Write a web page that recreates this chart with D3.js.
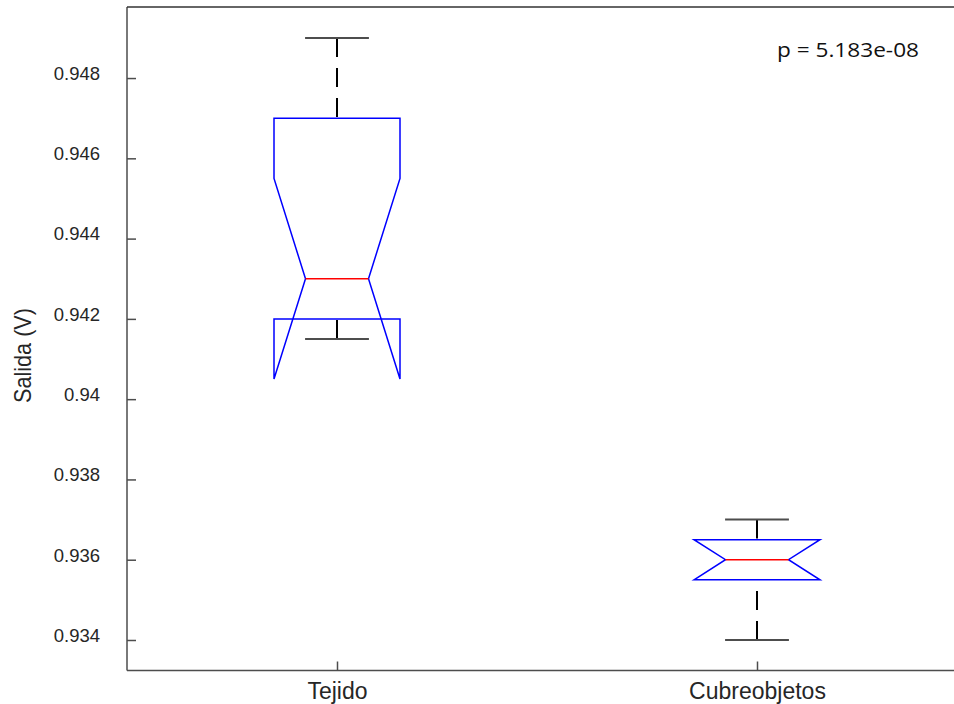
<!DOCTYPE html>
<html>
<head>
<meta charset="utf-8">
<script src="https://cdn.jsdelivr.net/npm/d3@7"></script>
<style>
  html, body { margin: 0; padding: 0; background: #fff; }
  svg { display: block; }
</style>
</head>
<body>
<svg id="chart" width="954" height="704"></svg>
<script>
// ---- data ----
const categories = ["Tejido", "Cubreobjetos"];
const q1Values = [0.942, 0.9355];
const medianValues = [0.943, 0.936];
const q3Values = [0.947, 0.9365];
const whiskerLow = [0.9415, 0.934];
const whiskerHigh = [0.949, 0.937];
const notchLow = [0.9405, 0.9355];
const notchHigh = [0.9455, 0.9365];
const yTicks = [0.934, 0.936, 0.938, 0.94, 0.942, 0.944, 0.946, 0.948];
const yTickLabels = ["0.934", "0.936", "0.938", "0.94", "0.942", "0.944", "0.946", "0.948"];
const yLabel = "Salida (V)";
const pText = "p = 5.183e-08";

(function () {
// ---- layout ----
const svg = d3.select("#chart");
const plotLeft = 127, plotTop = 7, plotBottom = 670.5, plotRightEdge = 967;

const x = d3.scaleLinear().domain([0.5, 2.5]).range([plotLeft, plotRightEdge]);
const y = d3.scaleLinear().domain([0.93324, 0.94977]).range([plotBottom, plotTop]);

const axisColor = "#4d4d4d";
const textColor = "#262626";
const boxHalf = 0.15, notchHalf = 0.075, capHalf = 0.076;

// y axis (ticks inside)
const yAxis = d3.axisLeft(y)
  .tickValues(yTicks)
  .tickFormat((d, i) => yTickLabels[i])
  .tickSizeInner(-9)
  .tickSizeOuter(0)
  .tickPadding(27);
const gy = svg.append("g").attr("transform", `translate(${plotLeft},0)`).call(yAxis);
gy.select(".domain").remove();
gy.selectAll(".tick line").attr("stroke", axisColor).attr("stroke-width", 1.5);
gy.selectAll(".tick text")
  .attr("fill", textColor)
  .attr("dy", "0.07em")
  .style("font-family", "'Liberation Sans', Arial, sans-serif")
  .style("font-size", "18.5px");

// x axis (ticks inside)
const xAxis = d3.axisBottom(x)
  .tickValues([1, 2])
  .tickFormat((d, i) => categories[i])
  .tickSizeInner(-9)
  .tickSizeOuter(0)
  .tickPadding(0);
const gx = svg.append("g").attr("transform", `translate(0,${plotBottom})`).call(xAxis);
gx.select(".domain").remove();
gx.selectAll(".tick line").attr("stroke", axisColor).attr("stroke-width", 1.5);
gx.selectAll(".tick text")
  .attr("fill", textColor)
  .attr("y", 28.5)
  .attr("dy", 0)
  .style("font-family", "'Liberation Sans', Arial, sans-serif")
  .style("font-size", "23px");

// frame lines (left, top, bottom; no right border)
svg.append("line").attr("x1", plotLeft).attr("x2", plotLeft).attr("y1", plotTop).attr("y2", plotBottom)
  .attr("stroke", axisColor).attr("stroke-width", 1.5);
svg.append("line").attr("x1", plotLeft).attr("x2", 954).attr("y1", plotTop).attr("y2", plotTop)
  .attr("stroke", "#333").attr("stroke-width", 1.5);
svg.append("line").attr("x1", plotLeft).attr("x2", 954).attr("y1", plotBottom).attr("y2", plotBottom)
  .attr("stroke", axisColor).attr("stroke-width", 1.5);

// y label
svg.append("text")
  .attr("transform", `translate(31,355.5) rotate(-90)`)
  .attr("text-anchor", "middle")
  .attr("fill", textColor)
  .attr("textLength", 95)
  .attr("lengthAdjust", "spacingAndGlyphs")
  .style("font-family", "'Liberation Sans', Arial, sans-serif")
  .style("font-size", "24px")
  .text(yLabel);

// boxes
const data = categories.map((c, i) => ({
  c, pos: i + 1,
  q1: q1Values[i], med: medianValues[i], q3: q3Values[i],
  lo: whiskerLow[i], hi: whiskerHigh[i],
  nlo: notchLow[i], nhi: notchHigh[i]
}));

const g = svg.append("g");

data.forEach(d => {
  // whiskers (dashed, drawn from cap toward box)
  g.append("line")
    .attr("x1", x(d.pos)).attr("x2", x(d.pos))
    .attr("y1", y(d.hi)).attr("y2", y(d.q3))
    .attr("stroke", "#000").attr("stroke-width", 2)
    .attr("stroke-dasharray", "19,11");
  g.append("line")
    .attr("x1", x(d.pos)).attr("x2", x(d.pos))
    .attr("y1", y(d.lo)).attr("y2", y(d.q1))
    .attr("stroke", "#000").attr("stroke-width", 2)
    .attr("stroke-dasharray", "19,11");
  // caps
  [d.hi, d.lo].forEach(v => {
    g.append("line")
      .attr("x1", x(d.pos - capHalf)).attr("x2", x(d.pos + capHalf))
      .attr("y1", y(v)).attr("y2", y(v))
      .attr("stroke", "#4d4d4d").attr("stroke-width", 2);
  });
  // notched box
  const pts = [
    [x(d.pos - boxHalf), y(d.q1)],
    [x(d.pos - boxHalf), y(d.nlo)],
    [x(d.pos - notchHalf), y(d.med)],
    [x(d.pos - boxHalf), y(d.nhi)],
    [x(d.pos - boxHalf), y(d.q3)],
    [x(d.pos + boxHalf), y(d.q3)],
    [x(d.pos + boxHalf), y(d.nhi)],
    [x(d.pos + notchHalf), y(d.med)],
    [x(d.pos + boxHalf), y(d.nlo)],
    [x(d.pos + boxHalf), y(d.q1)]
  ];
  g.append("path")
    .attr("d", d3.line()(pts) + "Z")
    .attr("fill", "none")
    .attr("stroke", "#0000ff").attr("stroke-width", 1.5)
    .attr("stroke-linejoin", "miter");
  // median
  g.append("line")
    .attr("x1", x(d.pos - notchHalf)).attr("x2", x(d.pos + notchHalf))
    .attr("y1", y(d.med)).attr("y2", y(d.med))
    .attr("stroke", "#ff0000").attr("stroke-width", 1.5);
});

// p-value annotation
svg.append("text")
  .attr("x", 777).attr("y", 57)
  .attr("fill", "#111")
  .attr("textLength", 142)
  .attr("lengthAdjust", "spacingAndGlyphs")
  .style("font-family", "'Open Sans', sans-serif")
  .style("font-size", "20px")
  .text(pText);
})();
</script>
</body>
</html>
